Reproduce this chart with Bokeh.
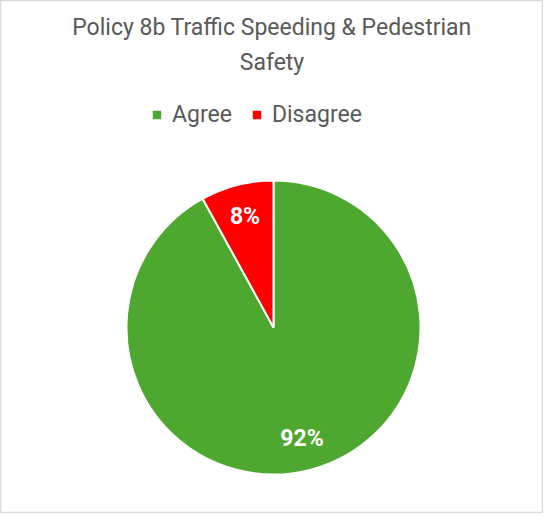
import math
from bokeh.plotting import figure
from bokeh.models import Range1d, Legend, LegendItem, ColumnDataSource
from bokeh.core.properties import value
from bokeh.embed import file_html
from bokeh.resources import INLINE

categories = ["Agree", "Disagree"]
shares = [92, 8]
labels = ["92%", "8%"]
colors = ["#4EA72E", "#FF0000"]
title_lines = ["Policy 8b Traffic Speeding & Pedestrian", "Safety"]

W, H = 543, 513
CX, CY, R = 273, 186, 147
FONT = "Roboto"

# angles: Excel starts at 12 o'clock and goes clockwise
total = sum(shares)
starts, ends, lx, ly = [], [], [], []
acc = 0.0
for s in shares:
    a0 = math.pi / 2 - 2 * math.pi * acc / total
    a1 = math.pi / 2 - 2 * math.pi * (acc + s) / total
    starts.append(a1)
    ends.append(a0)
    mid = (a0 + a1) / 2
    f = 0.78
    lx.append(CX + f * R * math.cos(mid))
    ly.append(CY + f * R * math.sin(mid))
    acc += s

src = ColumnDataSource(dict(cat=categories, start=starts, end=ends, color=colors,
                            lab=labels, lx=lx, ly=ly))

p = figure(width=W, height=H, x_range=Range1d(0, W), y_range=Range1d(0, H),
           output_backend="svg", toolbar_location=None, min_border=0)
p.axis.visible = False
p.grid.visible = False
p.outline_line_color = "#D9D9D9"
p.outline_line_width = 1.5
p.background_fill_color = "white"

r = p.wedge(x=CX, y=CY, radius=R, start_angle="start", end_angle="end",
            fill_color="color", line_color="white", line_width=2, source=src)

p.text(x="lx", y="ly", text="lab", source=src, text_color="white",
       text_font=value(FONT), text_font_size="23px", text_font_style="bold",
       text_align="center", text_baseline="middle")

p.text(x=[W / 2, W / 2], y=[H - 27, H - 62], text=title_lines, text_color="#595959",
       text_font=value(FONT), text_font_size="23px",
       text_align="center", text_baseline="middle")

items = [LegendItem(label=c, renderers=[r], index=i) for i, c in enumerate(categories)]
legend = Legend(items=items, orientation="horizontal", location=(150, 385),
                label_text_font=FONT, label_text_font_size="23px",
                label_text_color="#595959", glyph_width=13, glyph_height=13,
                spacing=18, label_standoff=9, border_line_color=None,
                background_fill_alpha=0, padding=0, margin=0)
p.add_layout(legend, "center")

open("out.html", "w").write(file_html(p, INLINE))
